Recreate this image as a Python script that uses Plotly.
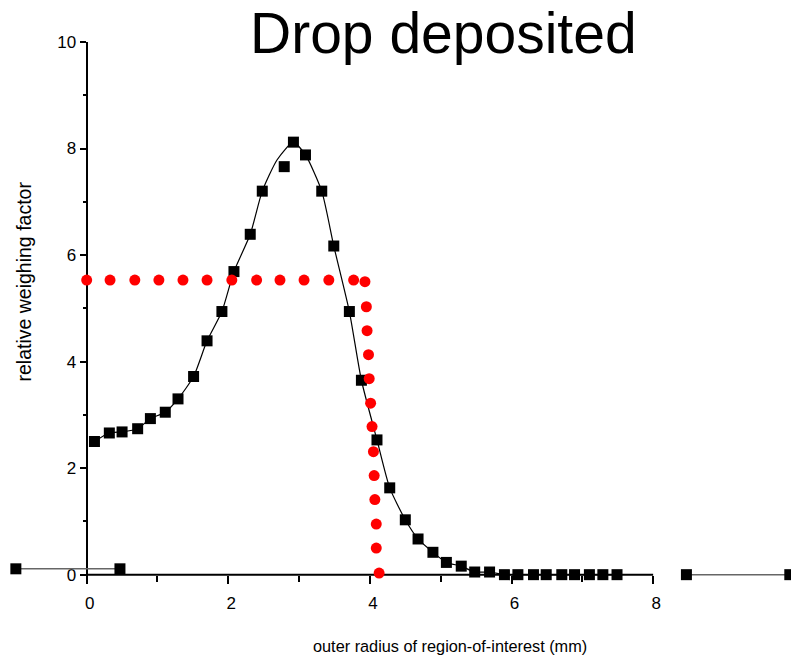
import plotly.graph_objects as go

# ---- data ----
square_x = [0.11, 0.32, 0.50, 0.72, 0.90, 1.11, 1.29, 1.51, 1.70, 1.91, 2.08, 2.31, 2.48, 2.79,
            2.92, 3.09, 3.32, 3.49, 3.71, 3.88, 4.10, 4.28, 4.50, 4.68, 4.89, 5.08, 5.29, 5.48,
            5.69, 5.90, 6.09, 6.31, 6.49, 6.71, 6.89, 7.10, 7.29, 7.49]
square_y = [2.50, 2.66, 2.68, 2.74, 2.93, 3.05, 3.30, 3.72, 4.39, 4.94, 5.69, 6.39, 7.20, 7.66,
            8.12, 7.88, 7.20, 6.17, 4.94, 3.65, 2.53, 1.63, 1.03, 0.67, 0.42, 0.23, 0.16, 0.05,
            0.05, 0.00, 0.00, 0.00, 0.00, 0.00, 0.00, 0.00, 0.00, 0.00]

fit_x = [0.11, 0.32, 0.50, 0.72, 0.90, 1.11, 1.29, 1.51, 1.70, 1.91, 2.08, 2.31, 2.48, 2.69,
         2.92, 3.09, 3.32, 3.49, 3.71, 3.88, 4.10, 4.28, 4.50, 4.68, 4.89, 5.08, 5.29, 5.48,
         5.69, 5.90, 6.09, 6.31, 6.49, 6.71, 6.89, 7.10, 7.29, 7.49]
fit_y = [2.50, 2.66, 2.68, 2.74, 2.93, 3.05, 3.30, 3.72, 4.39, 4.94, 5.69, 6.39, 7.20, 7.79,
         8.12, 7.88, 7.20, 6.17, 4.94, 3.65, 2.53, 1.63, 1.03, 0.67, 0.42, 0.23, 0.16, 0.05,
         0.05, 0.00, 0.00, 0.00, 0.00, 0.00, 0.00, 0.00, 0.00, 0.00]

red_x = [0.00, 0.33, 0.68, 1.02, 1.36, 1.70, 2.05, 2.40, 2.73, 3.07, 3.42, 3.77,
         3.93, 3.95, 3.96, 3.98, 3.99, 4.01, 4.03, 4.05, 4.06, 4.07, 4.09, 4.09, 4.13]
red_y = [5.53, 5.53, 5.53, 5.53, 5.53, 5.53, 5.53, 5.53, 5.53, 5.53, 5.53, 5.53,
         5.50, 5.03, 4.58, 4.13, 3.68, 3.22, 2.78, 2.31, 1.86, 1.41, 0.95, 0.50, 0.03]

left_x = [-1.00, 0.47]
left_y = [0.11, 0.11]
right_x = [8.47, 9.93]
right_y = [0.00, 0.00]

x_ticks = [0, 2, 4, 6, 8]
x_minor = [1, 3, 5, 7]
y_ticks = [0, 2, 4, 6, 8, 10]
y_minor = [1, 3, 5, 7, 9]

title_text = "Drop deposited"
x_title = "outer radius of region-of-interest (mm)"
y_title = "relative weighing factor"

# ---- layout geometry ----
W, H = 791, 660
X_RANGE = [-1.224, 9.947]
Y_RANGE = [-0.1, 10]
TOP, BOTTOM = 41.7, 660 - 580.3
FONT = "Liberation Sans, Arial, sans-serif"

fig = go.Figure()

fig.add_trace(go.Scatter(x=left_x, y=left_y, mode="lines+markers",
                         line=dict(color="#666666", width=1.5),
                         marker=dict(symbol="square", size=11, color="black"),
                         cliponaxis=False, showlegend=False))
fig.add_trace(go.Scatter(x=right_x, y=right_y, mode="lines+markers",
                         line=dict(color="#666666", width=1.5),
                         marker=dict(symbol="square", size=11, color="black"),
                         cliponaxis=False, showlegend=False))
fig.add_trace(go.Scatter(x=fit_x, y=fit_y, mode="lines",
                         line=dict(color="black", width=1.2, shape="spline", smoothing=0.6),
                         showlegend=False, hoverinfo="skip"))
fig.add_trace(go.Scatter(x=square_x, y=square_y, mode="markers",
                         marker=dict(symbol="square", size=11, color="black"),
                         cliponaxis=False, showlegend=False))
fig.add_trace(go.Scatter(x=red_x, y=red_y, mode="markers",
                         marker=dict(symbol="circle", size=11, color="#ff0000"),
                         cliponaxis=False, showlegend=False))

# x axis line from 0 to 8 at y = 0
fig.add_shape(type="line", xref="x", yref="y", x0=x_ticks[0], x1=x_ticks[-1], y0=0, y1=0,
              line=dict(color="black", width=2), layer="below")

x_pos = (0 - Y_RANGE[0]) / (Y_RANGE[1] - Y_RANGE[0])
y_pos = (0 - X_RANGE[0]) / (X_RANGE[1] - X_RANGE[0])

fig.update_layout(
    width=W, height=H,
    margin=dict(l=0, r=0, t=TOP, b=BOTTOM, pad=0),
    paper_bgcolor="white", plot_bgcolor="white",
    font=dict(family=FONT, color="black", size=16),
    xaxis=dict(range=X_RANGE, anchor="free", position=x_pos, showline=False,
               showgrid=False, zeroline=False, tickmode="array", tickvals=x_ticks,
               ticks="outside", ticklen=8, tickwidth=2, tickcolor="black",
               tickfont=dict(size=17, family=FONT), ticklabelshift=3, ticklabelstandoff=5,
               minor=dict(tickmode="array", tickvals=x_minor, ticks="outside",
                          ticklen=6, tickwidth=2, tickcolor="black"),
               automargin=False, fixedrange=True),
    yaxis=dict(range=Y_RANGE, anchor="free", position=y_pos, showline=True,
               linecolor="black", linewidth=2, layer="below traces",
               showgrid=False, zeroline=False, tickmode="array", tickvals=y_ticks,
               ticks="outside", ticklen=6, tickwidth=2, tickcolor="black",
               tickfont=dict(size=17, family=FONT),
               minor=dict(tickmode="array", tickvals=y_minor, ticks="outside",
                          ticklen=3, tickwidth=2, tickcolor="black"),
               automargin=False, fixedrange=True),
)

plot_h = H - TOP - BOTTOM
fig.add_annotation(text=title_text, xref="paper", yref="paper",
                   x=443.5 / W, y=1 + TOP / plot_h, xanchor="center", yanchor="top",
                   showarrow=False, borderpad=0,
                   font=dict(size=57, family=FONT, color="black"))
fig.add_annotation(text=x_title, xref="paper", yref="paper",
                   x=450 / W, y=-(646 - (H - BOTTOM)) / plot_h, xanchor="center", yanchor="middle",
                   showarrow=False, font=dict(size=16.3, family=FONT, color="black"))
fig.add_annotation(text=y_title, xref="paper", yref="paper", textangle=-90,
                   x=24 / W, y=((H - BOTTOM) - 281.5) / plot_h, xanchor="center", yanchor="middle",
                   showarrow=False, font=dict(size=19.5, family=FONT, color="black"))

fig.write_html("out.html")
